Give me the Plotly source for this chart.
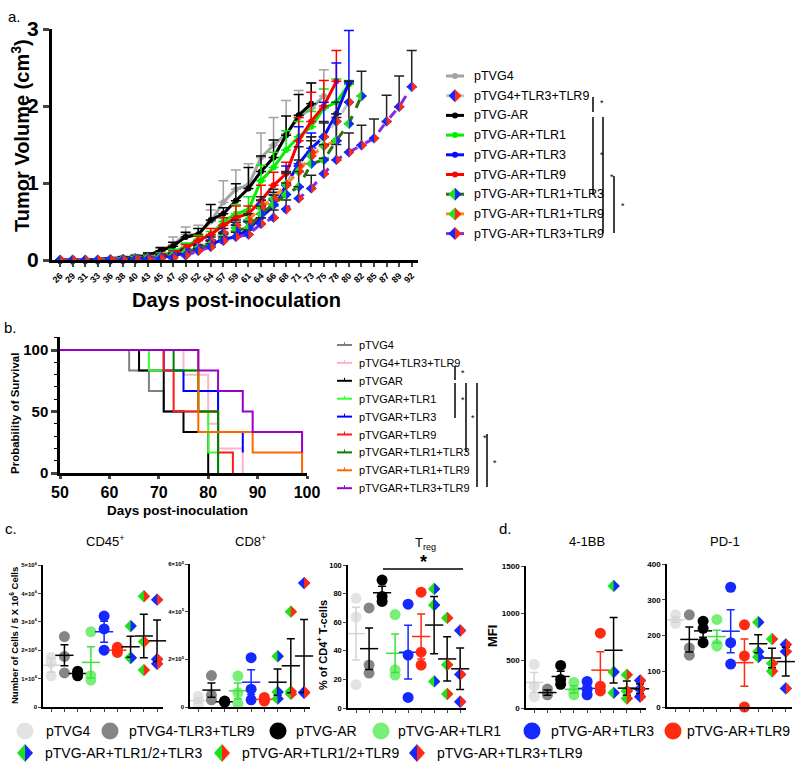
import plotly.graph_objects as go

W, H = 800, 766
FONT = "Liberation Sans, Arial, sans-serif"


def fx(px):
    return px / W


def fy(py):
    return 1 - py / H


# ---------------- a. tumour volume ----------------
days = [26, 29, 31, 33, 36, 38, 40, 43, 45, 47, 50, 52, 54, 57, 59, 61,
        64, 66, 68, 71, 73, 75, 78, 80, 82, 85, 87, 89, 92]

vol_pTVG4 = [0, 0, 0, 0.01, 0.02, 0.03, 0.04, 0.06, 0.12, 0.2, 0.33, 0.33, 0.5,
             0.75, 0.92, 0.97, 1.33, 1.49, 1.64, 1.85, 1.97, 2.13]
err_pTVG4 = [0, 0, 0, 0, 0.01, 0.02, 0.03, 0.03, 0.05, 0.1, 0.1, 0.12, 0.15,
             0.28, 0.25, 0.28, 0.32, 0.36, 0.43, 0.35, 0.33, 0.34]
vol_pTVG4_TLR39 = [0, 0, 0, 0, 0.01, 0.01, 0.02, 0.03, 0.05, 0.07, 0.1, 0.15, 0.25,
                   0.35, 0.45, 0.5, 0.72, 0.78, 0.97, 1.22, 1.4, 1.6, 1.8, 2.05]
err_pTVG4_TLR39 = [0, 0, 0, 0, 0, 0, 0.01, 0.01, 0.02, 0.02, 0.03, 0.04, 0.05,
                   0.06, 0.07, 0.08, 0.1, 0.1, 0.18, 0.25, 0.2, 0.2, 0.25, 0.27]
vol_AR = [0, 0, 0, 0.01, 0.02, 0.03, 0.04, 0.06, 0.12, 0.18, 0.3, 0.33, 0.52,
          0.6, 0.77, 0.93, 1.15, 1.33, 1.62, 1.88, 2.03]
err_AR = [0, 0, 0, 0, 0.01, 0.01, 0.02, 0.03, 0.04, 0.05, 0.06, 0.08, 0.2,
          0.08, 0.22, 0.27, 0.2, 0.23, 0.25, 0.27, 0.27]
vol_TLR1 = [0, 0, 0, 0, 0.01, 0.02, 0.03, 0.04, 0.06, 0.1, 0.17, 0.27, 0.32,
            0.5, 0.6, 0.65, 1.03, 1.2, 1.43, 1.6, 1.73, 1.97, 2.05, 2.28]
err_TLR1 = [0, 0, 0, 0, 0.01, 0.01, 0.02, 0.02, 0.03, 0.04, 0.05, 0.05, 0.05,
            0.05, 0.12, 0.17, 0.2, 0.2, 0.25, 0.2, 0.2, 0.25, 0.3, 0.05]
vol_TLR3 = [0, 0, 0, 0, 0.01, 0.01, 0.02, 0.03, 0.04, 0.05, 0.1, 0.15, 0.2,
            0.27, 0.3, 0.4, 0.55, 0.7, 0.97, 1.25, 1.45, 1.6, 1.9, 2.3]
err_TLR3 = [0, 0, 0, 0, 0, 0.01, 0.01, 0.01, 0.02, 0.03, 0.04, 0.05, 0.06,
            0.06, 0.08, 0.1, 0.12, 0.15, 0.25, 0.48, 0.2, 0.45, 0.66, 0.68]
vol_TLR9 = [0, 0, 0, 0, 0.01, 0.01, 0.02, 0.03, 0.05, 0.08, 0.15, 0.25, 0.33,
            0.45, 0.55, 0.6, 0.77, 0.97, 1.12, 1.55, 1.8, 2.0, 2.32]
err_TLR9 = [0, 0, 0, 0, 0.01, 0.01, 0.01, 0.02, 0.03, 0.04, 0.05, 0.06, 0.08,
            0.1, 0.15, 0.1, 0.2, 0.17, 0.15, 0.3, 0.38, 0.33, 0.4]
vol_TLR13 = [0, 0, 0, 0, 0, 0.01, 0.02, 0.03, 0.04, 0.06, 0.1, 0.15, 0.2,
             0.28, 0.38, 0.42, 0.6, 0.72, 0.85, 0.95, 1.25, 1.3, 1.55, 1.77, 2.13]
err_TLR13 = [0, 0, 0, 0, 0, 0, 0.01, 0.01, 0.02, 0.02, 0.03, 0.04, 0.05,
             0.06, 0.07, 0.08, 0.1, 0.12, 0.15, 0.2, 0.3, 0.2, 0.35, 0.55, 0.32]
vol_TLR19 = [0, 0, 0, 0, 0, 0.01, 0.01, 0.02, 0.03, 0.05, 0.08, 0.13, 0.2,
             0.3, 0.42, 0.52, 0.68, 0.8, 0.98, 1.15, 1.35, 1.48, 1.55]
err_TLR19 = [0, 0, 0, 0, 0, 0, 0.01, 0.01, 0.01, 0.02, 0.03, 0.04, 0.05,
             0.06, 0.07, 0.08, 0.1, 0.12, 0.15, 0.15, 0.25, 0.3, 0.3]
vol_TLR39 = [0, 0, 0, 0, 0, 0, 0.01, 0.01, 0.02, 0.03, 0.06, 0.12, 0.17,
             0.25, 0.3, 0.33, 0.47, 0.55, 0.66, 0.8, 0.93, 1.12, 1.3, 1.4, 1.49,
             1.58, 1.8, 1.99, 2.25]
err_TLR39 = [0, 0, 0, 0, 0, 0, 0, 0.01, 0.01, 0.02, 0.02, 0.03, 0.04,
             0.05, 0.06, 0.06, 0.08, 0.1, 0.12, 0.15, 0.17, 0.2, 0.2, 0.25, 0.26,
             0.25, 0.34, 0.4, 0.47]

a_labels = ["pTVG4", "pTVG4+TLR3+TLR9", "pTVG-AR", "pTVG-AR+TLR1", "pTVG-AR+TLR3",
            "pTVG-AR+TLR9", "pTVG-AR+TLR1+TLR3", "pTVG-AR+TLR1+TLR9", "pTVG-AR+TLR3+TLR9"]

# ---------------- b. survival ----------------
b_labels = ["pTVG4", "pTVG4+TLR3+TLR9", "pTVGAR", "pTVGAR+TLR1", "pTVGAR+TLR3",
            "pTVGAR+TLR9", "pTVGAR+TLR1+TLR3", "pTVGAR+TLR1+TLR9", "pTVGAR+TLR3+TLR9"]
surv_days = [
    [50, 64, 68, 71, 82],
    [50, 75, 80, 82, 87],
    [50, 66, 71, 75, 80],
    [50, 68, 78, 80, 82],
    [50, 71, 75, 82, 87],
    [50, 71, 73, 82, 85],
    [50, 73, 78, 82],
    [50, 78, 89, 99],
    [50, 78, 82, 87, 89, 99],
]
surv_pct = [
    [100, 83.3, 66.7, 50, 0],
    [100, 80, 40, 20, 0],
    [100, 83.3, 50, 33.3, 0],
    [100, 83.3, 50, 16.7, 0],
    [100, 83.3, 66.7, 33.3, 16.7],
    [100, 83.3, 50, 16.7, 0],
    [100, 83.3, 50, 0],
    [100, 33.3, 16.7, 0],
    [100, 83.3, 66.7, 50, 33.3, 16.7],
]

# ---------------- c. / d. flow cytometry ----------------
cd_labels = ["pTVG4", "pTVG4-TLR3+TLR9", "pTVG-AR", "pTVG-AR+TLR1", "pTVG-AR+TLR3",
             "pTVG-AR+TLR9", "pTVG-AR+TLR1/2+TLR3", "pTVG-AR+TLR1/2+TLR9", "pTVG-AR+TLR3+TLR9"]

cd45_pts = [[1.75, 1.55, 1.1], [2.48, 1.78, 1.2], [1.26, 1.18, 1.1], [2.65, 1.1, 0.95],
            [3.2, 2.75, 2.0], [2.1, 2.0, 1.92], [2.85, 1.73, 1.73], [3.9, 2.3, 1.3],
            [3.78, 1.68, 1.52]]
cd45_mean = [1.47, 1.82, 1.18, 1.57, 2.65, 2.0, 2.12, 2.5, 2.33]
cd45_sem = [0.25, 0.37, 0.05, 0.55, 0.37, 0.05, 0.37, 0.77, 0.73]

cd8_pts = [[0.45, 0.25, 0.1], [1.32, 0.5, 0.3], [0.25, 0.22, 0.2], [1.3, 0.6, 0.15],
           [2.07, 0.75, 0.3], [0.4, 0.3, 0.25], [2.13, 0.63, 0.35], [4.0, 0.65, 0.55],
           [5.2, 0.62, 0.6]]
cd8_mean = [0.27, 0.71, 0.22, 0.68, 1.04, 0.32, 1.04, 1.73, 2.14]
cd8_sem = [0.1, 0.3, 0.02, 0.33, 0.52, 0.05, 0.55, 1.13, 1.53]

treg_pts = [[76.7, 63.7, 16.3], [70, 30, 24.4], [89.5, 78, 74.5], [65.3, 26.7, 23],
            [72.6, 37, 7.4], [81, 39, 30], [83.3, 72, 18.6], [63, 30.2, 9.8],
            [54.2, 23.5, 4.4]]
treg_mean = [52, 41.5, 80.6, 38.3, 39, 50, 58, 34.3, 27.4]
treg_sem = [18.5, 14.5, 4.5, 13.5, 18.8, 15.8, 20, 15.5, 14.5]

bb_pts = [[460, 230, 120], [200, 150, 140], [450, 300, 250], [270, 180, 140],
          [280, 200, 140], [790, 230, 180], [1290, 380, 160], [350, 180, 100],
          [290, 200, 120]]
bb_mean = [270, 163, 333, 197, 207, 400, 610, 210, 203]
bb_sem = [105, 28, 55, 38, 40, 195, 345, 75, 50]

pd1_pts = [[258, 240, 234], [258, 165, 145], [240, 220, 180], [245, 175, 170],
           [335, 180, 120], [230, 143, 0], [237, 155, 140], [190, 122, 100],
           [175, 155, 52]]
pd1_mean = [244, 189, 213, 197, 212, 124, 177, 137, 127]
pd1_sem = [7, 35, 18, 18, 60, 66, 25, 27, 40]

# ---------------- styles ----------------
GREEN, BLUE, RED = "#1ee01e", "#1428ff", "#ff2a10"
a_style = [
    dict(color="#a3a3a3", dash="solid", split=None),
    dict(color="#c8c8c8", dash="dash", split=(BLUE, RED)),
    dict(color="black", dash="solid", split=None),
    dict(color="#00f000", dash="solid", split=None),
    dict(color="#0a0aff", dash="solid", split=None),
    dict(color="#ff0000", dash="solid", split=None),
    dict(color="#2f6d10", dash="dash", split=(GREEN, BLUE)),
    dict(color="#ff8a1c", dash="dash", split=(GREEN, RED)),
    dict(color="#8a2be2", dash="dash", split=(BLUE, RED)),
]
a_vols = [vol_pTVG4, vol_pTVG4_TLR39, vol_AR, vol_TLR1, vol_TLR3, vol_TLR9,
          vol_TLR13, vol_TLR19, vol_TLR39]
a_errs = [err_pTVG4, err_pTVG4_TLR39, err_AR, err_TLR1, err_TLR3, err_TLR9,
          err_TLR13, err_TLR19, err_TLR39]
b_colors = ["#808080", "#ffb3cc", "black", "#33ff33", "#0000ff", "#ff1a1a",
            "#008000", "#ff6600", "#9900cc"]
cd_fill = ["#e3e3e3", "#858585", "black", "#78f078", "#1428ff", "#ff2a10",
           (GREEN, BLUE), (GREEN, RED), (BLUE, RED)]
cd_bar = ["#d4d4d4", "black", "black", "#3ee03e", "#1428ff", "#ff2a10",
          "black", "black", "black"]

fig = go.Figure()
shapes = []
ann = []


def right_half(xref, yref, x, y, r, color, h=None):
    h = r if h is None else h
    shapes.append(dict(type="path", xref=xref, yref=yref, xsizemode="pixel",
                       ysizemode="pixel", xanchor=x, yanchor=y,
                       path=f"M0,{h} L{r},0 L0,-{h} Z", fillcolor=color,
                       line=dict(width=0), layer="above"))


def left_half(xref, yref, x, y, r, color, h=None):
    h = r if h is None else h
    shapes.append(dict(type="path", xref=xref, yref=yref, xsizemode="pixel",
                       ysizemode="pixel", xanchor=x, yanchor=y,
                       path=f"M0,{h} L-{r},0 L0,-{h} Z", fillcolor=color,
                       line=dict(width=0), layer="above"))


def text(px, py, s, size, xanchor="center", bold=False, angle=0, color="black"):
    ann.append(dict(x=fx(px), y=fy(py), xref="paper", yref="paper", text=s,
                    showarrow=False, xanchor=xanchor, yanchor="middle", textangle=angle,
                    font=dict(family=FONT, size=size, color=color,
                              weight="bold" if bold else "normal")))


def pline(x0, y0, x1, y1, color="black", width=1.5):
    shapes.append(dict(type="line", xref="paper", yref="paper", x0=fx(x0), y0=fy(y0),
                       x1=fx(x1), y1=fy(y1), line=dict(color=color, width=width)))


# ---- panel a traces (purple last so it sits on top) ----
order = [0, 2, 3, 5, 4, 1, 7, 6, 8]
for k in order:
    st = a_style[k]
    ys = a_vols[k]
    xs = list(range(len(ys)))
    ecol = st["color"] if st["split"] is None else "#222222"
    fig.add_trace(go.Scatter(
        x=xs, y=ys, mode="lines+markers", xaxis="x", yaxis="y", cliponaxis=False,
        line=dict(color=st["color"], width=3, dash=st["dash"]),
        marker=dict(symbol="circle" if st["split"] is None else "diamond",
                    size=6 if st["split"] is None else 8,
                    color=st["color"] if st["split"] is None else st["split"][0]),
        error_y=dict(type="data", symmetric=False, array=a_errs[k],
                     arrayminus=[0] * len(ys), color=ecol, thickness=1.5, width=5),
        showlegend=False))
    if st["split"] is not None:
        for x, y in zip(xs, ys):
            right_half("x", "y", x, y, 5.2, st["split"][1])

# ---- panel b traces ----
for k in range(len(b_labels)):
    fig.add_trace(go.Scatter(
        x=surv_days[k], y=surv_pct[k], mode="lines", line_shape="hv",
        xaxis="x2", yaxis="y2", line=dict(color=b_colors[k], width=2),
        showlegend=False))

# ---- panels c/d ----
panels = [
    dict(pts=cd45_pts, mean=cd45_mean, sem=cd45_sem, xd=(43, 163), yd=(707, 565),
         yr=[0, 5], tv=[0, 1, 2, 3, 4, 5],
         tt=["0"] + [f"{v}×10<sup>6</sup>" for v in [1, 2, 3, 4, 5]], tf=6),
    dict(pts=cd8_pts, mean=cd8_mean, sem=cd8_sem, xd=(190, 310), yd=(707, 564),
         yr=[0, 6], tv=[0, 2, 4, 6],
         tt=["0"] + [f"{v}×10<sup>5</sup>" for v in [2, 4, 6]], tf=6),
    dict(pts=treg_pts, mean=treg_mean, sem=treg_sem, xd=(348, 466), yd=(708, 565),
         yr=[0, 100], tv=[0, 20, 40, 60, 80, 100], tt=None, tf=7.5),
    dict(pts=bb_pts, mean=bb_mean, sem=bb_sem, xd=(526, 646), yd=(708, 566),
         yr=[0, 1500], tv=[0, 500, 1000, 1500], tt=None, tf=8),
    dict(pts=pd1_pts, mean=pd1_mean, sem=pd1_sem, xd=(667, 792), yd=(707, 564),
         yr=[0, 400], tv=[0, 100, 200, 300, 400], tt=None, tf=8),
]

layout_axes = {}
for p_i, p in enumerate(panels):
    n = p_i + 3
    xa, ya = f"x{n}", f"y{n}"
    for g in range(9):
        ys = p["pts"][g]
        xs = [g] * len(ys)
        fill = cd_fill[g]
        split = isinstance(fill, tuple)
        fig.add_trace(go.Scatter(
            x=xs, y=ys, mode="markers", xaxis=xa, yaxis=ya, cliponaxis=False,
            marker=dict(symbol="diamond" if split else "circle",
                        size=9.5 if split else 11,
                        color=fill[0] if split else fill, line=dict(width=0)),
            showlegend=False))
        if split:
            for x, y in zip(xs, ys):
                right_half(xa, ya, x, y, 6.2, fill[1])
        fig.add_trace(go.Scatter(
            x=[g], y=[p["mean"][g]], mode="markers", xaxis=xa, yaxis=ya, cliponaxis=False,
            marker=dict(symbol="line-ew", size=13,
                        line=dict(color=cd_bar[g], width=1.5)),
            error_y=dict(type="data", array=[p["sem"][g]], color=cd_bar[g],
                         thickness=1.5, width=4),
            showlegend=False))
    layout_axes[f"xaxis{n}"] = dict(
        domain=[fx(p["xd"][0]), fx(p["xd"][1])], range=[-0.62, 8.45], anchor=ya,
        showgrid=False, zeroline=False, showline=True, linecolor="black", linewidth=1.5,
        ticks="outside", ticklen=3, tickwidth=1, tickvals=list(range(9)),
        showticklabels=False, automargin=False)
    ydict = dict(
        domain=[fy(p["yd"][0]), fy(p["yd"][1])], range=p["yr"], anchor=xa,
        showgrid=False, zeroline=False, showline=True, linecolor="black", linewidth=1.5,
        ticks="outside", ticklen=3, tickwidth=1, tickvals=p["tv"], automargin=False,
        tickfont=dict(family=FONT, size=p["tf"], color="black", weight="bold"))
    if p["tt"] is not None:
        ydict["ticktext"] = p["tt"]
    layout_axes[f"yaxis{n}"] = ydict

# ---- text and decorations ----
text(6, 17, "a.", 15, xanchor="left")
text(2, 327, "b.", 15, xanchor="left")
text(3, 528, "c.", 15, xanchor="left")
text(497, 528, "d.", 15, xanchor="left")

text(20, 136, "Tumor Volume (cm<sup>3</sup>)", 20, bold=True, angle=-90)
text(236, 300, "Days post-inoculation", 20, bold=True)
text(15, 414, "Probability of Survival", 11.5, bold=True, angle=-90)
text(177, 510, "Days post-inoculation", 13.5, bold=True)

text(105, 541, "CD45<sup>+</sup>", 13)
text(251, 541, "CD8<sup>+</sup>", 13)
text(425, 543, "T<sub>reg</sub>", 13)
text(587, 541, "4-1BB", 13)
text(725, 541, "PD-1", 13)
text(14, 636, "Number of Cells / 5 X 10<sup>6</sup> Cells", 9.5, bold=True, angle=-90)
text(322, 645, "% of CD4<sup>+</sup> T-cells", 11, bold=True, angle=-90)
text(492, 636, "MFI", 13, bold=True, angle=-90)
pline(383, 569, 463, 569, width=1.5)
text(423, 562, "*", 18, bold=True)

# legend a
for k, lab in enumerate(a_labels):
    yy = 76 + 19.7 * k
    st = a_style[k]
    pline(446, yy, 464, yy, color=st["color"], width=3)
    if st["split"] is None:
        shapes.append(dict(type="circle", xref="paper", yref="paper", xsizemode="pixel",
                           ysizemode="pixel", xanchor=fx(455), yanchor=fy(yy),
                           x0=-3, x1=3, y0=-3, y1=3, fillcolor=st["color"],
                           line=dict(width=0)))
    else:
        left_half("paper", "paper", fx(455), fy(yy), 6.5, st["split"][0])
        right_half("paper", "paper", fx(455), fy(yy), 6.5, st["split"][1])
    text(472, yy, lab, 12.5, xanchor="left")
for (x, y0, y1, sx, sy) in [(593, 97, 112, 598, 103), (593, 117, 195, 598, 155),
                            (603, 117, 233, 608, 177), (614, 176, 233, 619, 206)]:
    pline(x, y0, x, y1, width=1.5)
    text(sx, sy, "*", 9, xanchor="left")

# legend b
for k, lab in enumerate(b_labels):
    yy = 345 + 17.9 * k
    pline(337, yy, 352, yy, color=b_colors[k], width=2)
    pline(344.5, yy, 344.5, yy - 3, color=b_colors[k], width=1)
    text(357, yy, lab, 11, xanchor="left")
for (x, y0, y1, sx, sy) in [(455, 366, 380, 459, 373), (455, 383, 418, 459, 400),
                            (466, 383, 452, 469, 418), (477, 383, 487, 481, 438),
                            (487, 434, 487, 491, 463)]:
    pline(x, y0, x, y1, width=1.5)
    text(sx, sy, "*", 9, xanchor="left")

# bottom legend
row1 = [(25, 44), (110, 127), (278, 294), (381, 396), (532, 549), (673, 685)]
for k in range(6):
    cx, tx = row1[k]
    shapes.append(dict(type="circle", xref="paper", yref="paper", xsizemode="pixel",
                       ysizemode="pixel", xanchor=fx(cx), yanchor=fy(731),
                       x0=-8.5, x1=8.5, y0=-8.5, y1=8.5, fillcolor=cd_fill[k],
                       line=dict(width=0)))
    text(tx, 731, cd_labels[k], 14, xanchor="left")
row2 = [(25, 43), (222, 240), (417, 435)]
for k in range(3):
    cx, tx = row2[k]
    left_half("paper", "paper", fx(cx), fy(753), 8, cd_fill[6 + k][0], h=9)
    right_half("paper", "paper", fx(cx), fy(753), 8, cd_fill[6 + k][1], h=9)
    text(tx, 753, cd_labels[6 + k], 14, xanchor="left")

fig.update_layout(
    width=W, height=H,
    margin=dict(l=0, r=0, t=0, b=0, pad=0, autoexpand=False),
    paper_bgcolor="white", plot_bgcolor="white", showlegend=False,
    font=dict(family=FONT, color="black"),
    xaxis=dict(domain=[fx(52), fx(418)], range=[-0.64, 28.5], anchor="y",
               showgrid=False, zeroline=False, showline=True, linecolor="black",
               linewidth=3, ticks="outside", ticklen=4, tickwidth=2, automargin=False,
               tickvals=list(range(len(days))), ticktext=[str(d) for d in days],
               tickangle=-45, tickfont=dict(family=FONT, size=9, color="black",
                                            weight="bold")),
    yaxis=dict(domain=[fy(260), fy(29)], range=[0, 3], anchor="x",
               showgrid=False, zeroline=False, showline=True, linecolor="black",
               linewidth=3, ticks="outside", ticklen=6, tickwidth=3, automargin=False,
               tickvals=[0, 1, 2, 3],
               tickfont=dict(family=FONT, size=21, color="black", weight="bold")),
    xaxis2=dict(domain=[fx(60), fx(307)], range=[50, 100], anchor="y2",
                showgrid=False, zeroline=False, showline=True, linecolor="black",
                linewidth=2.5, ticks="outside", ticklen=3, tickwidth=2.5, dtick=10,
                automargin=False,
                tickfont=dict(family=FONT, size=16, color="black", weight="bold")),
    yaxis2=dict(domain=[fy(473), fy(337)], range=[0, 110.6], anchor="x2",
                showgrid=False, zeroline=False, showline=True, linecolor="black",
                linewidth=2.5, ticks="outside", ticklen=6, tickwidth=2.5, dtick=50,
                automargin=False,
                minor=dict(ticks="outside", ticklen=3, tickwidth=1, dtick=10,
                           tickcolor="black"),
                tickfont=dict(family=FONT, size=15, color="black", weight="bold")),
    shapes=shapes, annotations=ann,
    **layout_axes,
)

# the page body has a default 8px margin; drop it so the figure sits at 0,0
fig.write_html("out.html", config={"displayModeBar": False},
               post_script="document.body.style.margin='0';")
